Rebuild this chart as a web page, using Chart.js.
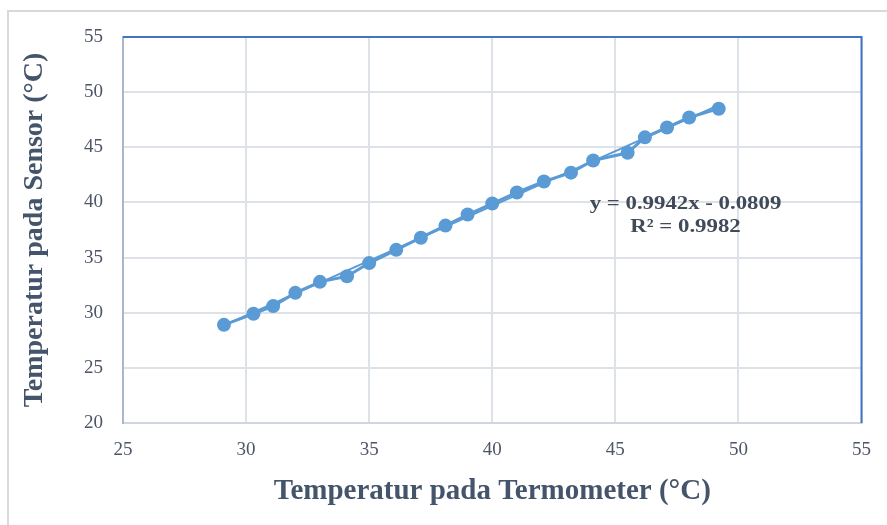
<!DOCTYPE html>
<html>
<head>
<meta charset="utf-8">
<script src="https://cdn.jsdelivr.net/npm/chart.js@4/dist/chart.umd.min.js"></script>
<style>
  html, body { margin: 0; padding: 0; background: #fff; }
  #wrap { width: 887px; height: 525px; position: relative; }
</style>
</head>
<body>
<div id="wrap"><canvas id="chart" width="887" height="525"></canvas></div>
<script>
// Data
const termometer = [29.1, 30.3, 31.1, 32.0, 33.0, 34.1, 35.0, 36.1, 37.1, 38.1, 39.0, 40.0, 41.0, 42.1, 43.2, 44.1, 45.5, 46.2, 47.1, 48.0, 49.2];
const sensor = [28.9, 29.9, 30.6, 31.8, 32.8, 33.3, 34.5, 35.7, 36.8, 37.9, 38.9, 39.9, 40.9, 41.9, 42.7, 43.8, 44.5, 45.9, 46.8, 47.7, 48.5];

// Trendline end points as seen on the chart
const trendX = [29.1, 49.2];
const trendY = [28.85, 48.83];
const trendLabel = ['y = 0.9942x - 0.0809', 'R\u00b2 = 0.9982'];

const xTicks = [25, 30, 35, 40, 45, 50, 55];
const yTicks = [20, 25, 30, 35, 40, 45, 50, 55];

const blue = '#5b9bd5';
const textDark = '#44546a';
const tickColor = '#4d5566';
const serif = "'Liberation Serif', 'Times New Roman', serif";

// white background + outer frame + blue top/right border + equation label
const decorations = {
    id: 'decorations',
    beforeDraw(chart) {
        const c = chart.ctx;
        c.save();
        c.fillStyle = '#fff';
        c.fillRect(0, 0, chart.width, chart.height);
        c.strokeStyle = '#d9d9d9';
        c.lineWidth = 2;
        c.strokeRect(8, 11, chart.width + 20, chart.height + 20);
        c.restore();
    },
    afterDatasetsDraw(chart) {
        const c = chart.ctx;
        const a = chart.chartArea;
        c.save();
        c.strokeStyle = '#4472c4';
        c.lineWidth = 2;
        c.beginPath();
        c.moveTo(a.left, a.top);
        c.lineTo(a.right, a.top);
        c.lineTo(a.right, a.bottom);
        c.stroke();

        const xs = chart.scales.x, ys = chart.scales.y;
        const cx = xs.getPixelForValue(47.85);
        const cy = ys.getPixelForValue(39.85);
        c.fillStyle = '#404a58';
        c.font = 'bold 19px ' + serif;
        c.textAlign = 'center';
        c.textBaseline = 'middle';
        // the reference text is a little wider than plain Times
        c.translate(cx, cy);
        c.scale(1.2, 1);
        c.fillText(trendLabel[0], 0, 0);
        c.fillText(trendLabel[1], 0, 23);
        c.restore();
    }
};

new Chart(document.getElementById('chart'), {
    type: 'scatter',
    data: {
        datasets: [{
            label: 'Sensor',
            data: termometer.map((x, i) => ({ x: x, y: sensor[i] })),
            showLine: true,
            borderColor: blue,
            backgroundColor: blue,
            borderWidth: 3,
            pointRadius: 7,
            pointHoverRadius: 7,
            pointBorderWidth: 0
        }, {
            label: 'Trendline',
            data: trendX.map((x, i) => ({ x: x, y: trendY[i] })),
            showLine: true,
            borderColor: blue,
            borderWidth: 2,
            pointRadius: 0
        }]
    },
    options: {
        responsive: false,
        animation: false,
        layout: { padding: { left: 10, right: 25, top: 37, bottom: 16 } },
        plugins: {
            legend: { display: false },
            tooltip: { enabled: false }
        },
        scales: {
            x: {
                type: 'linear',
                min: 25,
                max: 55,
                afterBuildTicks: s => { s.ticks = xTicks.map(v => ({ value: v })); },
                afterFit: s => { s.height = 86; },
                grid: { color: '#dde1e8', lineWidth: 2, drawTicks: false },
                border: { color: '#d0d6e0', width: 2 },
                ticks: { color: tickColor, font: { family: serif, size: 19 }, padding: 16 },
                title: {
                    display: true,
                    text: 'Temperatur pada Termometer (\u00b0C)',
                    color: textDark,
                    font: { family: serif, size: 29, weight: 'bold' },
                    padding: { top: 6, bottom: 0 }
                }
            },
            y: {
                type: 'linear',
                min: 20,
                max: 55,
                afterBuildTicks: s => { s.ticks = yTicks.map(v => ({ value: v })); },
                afterFit: s => { s.width = 113; },
                grid: { color: '#dde1e8', lineWidth: 2, drawTicks: false },
                border: { color: '#aab6cb', width: 2 },
                ticks: { color: tickColor, font: { family: serif, size: 19 }, padding: 20 },
                title: {
                    display: true,
                    text: 'Temperatur pada Sensor (\u00b0C)',
                    color: textDark,
                    font: { family: serif, size: 28, weight: 'bold' },
                    padding: { top: 8, bottom: 0 }
                }
            }
        }
    },
    plugins: [decorations]
});
</script>
</body>
</html>
